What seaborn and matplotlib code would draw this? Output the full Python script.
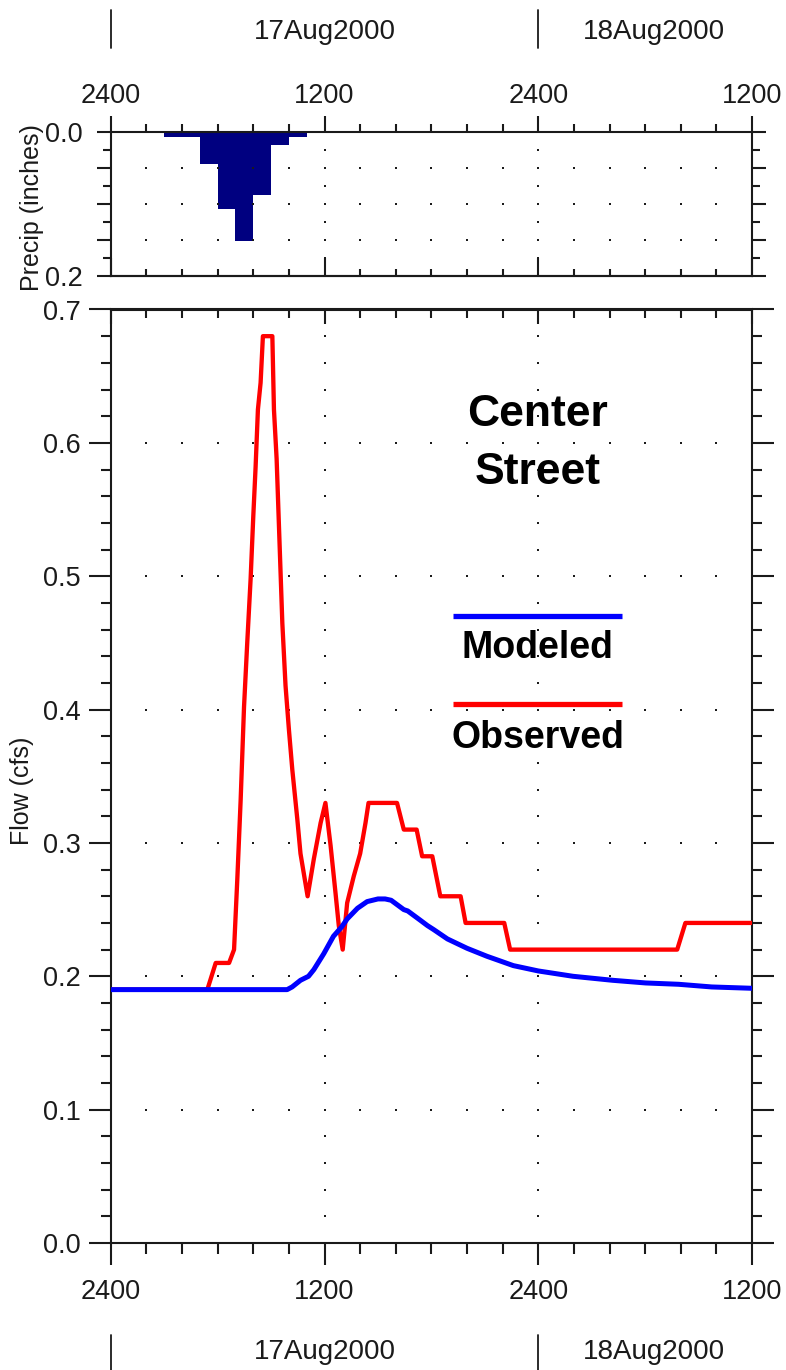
# -*- coding: utf-8 -*-
"""
CENTER STREET - PRECIP AND FLOW HYDROGRAPH
"""

import numpy as np
import matplotlib.pyplot as plt
import matplotlib.transforms as mtransforms
from matplotlib.ticker import MultipleLocator, FixedLocator, FuncFormatter, FormatStrFormatter
import seaborn as sns

# --- DATA (hours after 2400 on 16Aug2000)
precip_hour = [3, 4, 5, 6, 7, 8, 9, 10]
precip_in = [0.006, 0.006, 0.044, 0.107, 0.151, 0.087, 0.018, 0.006]

obs_hour = [0, 5.42, 5.89, 6.64, 6.92, 7.10, 7.29, 7.48, 7.66, 7.85, 8.0, 8.13, 8.26,
            8.41, 8.54, 9.07, 9.16, 9.31, 9.50, 9.63, 9.81, 10.0, 10.19, 10.47, 10.65,
            11.05, 11.4, 11.78, 12.05, 12.34, 12.62, 12.8, 13.02, 13.27, 13.64, 14.0,
            14.3, 14.47, 16.07, 16.45, 17.17, 17.48, 18.05, 18.5, 19.64, 19.92, 22.09,
            22.42, 31.8, 32.26, 36]
obs_flow = [0.19, 0.19, 0.21, 0.21, 0.22, 0.272, 0.332, 0.402, 0.45, 0.498, 0.545, 0.582,
            0.625, 0.645, 0.68, 0.68, 0.625, 0.588, 0.515, 0.465, 0.418, 0.385, 0.355,
            0.318, 0.292, 0.26, 0.288, 0.315, 0.33, 0.298, 0.262, 0.238, 0.22, 0.255,
            0.275, 0.292, 0.315, 0.33, 0.33, 0.31, 0.31, 0.29, 0.29, 0.26, 0.26, 0.24,
            0.24, 0.22, 0.22, 0.24, 0.24]

mod_hour = [0, 9.9, 10.18, 10.65, 11.1, 11.4, 11.96, 12.5, 12.96, 13.27, 13.85, 14.39,
            15.0, 15.4, 15.74, 16.45, 16.67, 17.38, 17.78, 18.13, 18.9, 20.0, 21.12,
            22.6, 24.0, 25.95, 28.17, 30.03, 31.88, 33.74, 36]
mod_flow = [0.19, 0.19, 0.192, 0.197, 0.2, 0.205, 0.217, 0.23, 0.237, 0.243, 0.251, 0.256,
            0.258, 0.258, 0.257, 0.25, 0.249, 0.242, 0.238, 0.235, 0.228, 0.221, 0.215,
            0.208, 0.204, 0.2, 0.197, 0.195, 0.194, 0.192, 0.191]

hour_ticks = [0, 12, 24, 36]
hour_labels = ['2400', '1200', '2400', '1200']
day_edges = [0, 24]
day_centres = [12, 30.5]
day_labels = ['17Aug2000', '18Aug2000']

INK = '#1a1a1a'
W, H = 786, 1370
L, R = 110.8, 752.0


def box(top, bottom):
    return [L / W, 1 - bottom / H, (R - L) / W, (bottom - top) / H]


def pt(px):
    return px * 0.72


#%% --- STYLE
sns.set_style("ticks")
plt.rcParams['font.family'] = ['Liberation Sans', 'DejaVu Sans']
plt.rcParams['axes.edgecolor'] = INK
plt.rcParams['axes.linewidth'] = 1.5
plt.rcParams['xtick.color'] = INK
plt.rcParams['ytick.color'] = INK
plt.rcParams['xtick.major.width'] = 1.5
plt.rcParams['xtick.minor.width'] = 1.5
plt.rcParams['ytick.major.width'] = 1.5
plt.rcParams['ytick.minor.width'] = 1.5

fig = plt.figure(figsize=(W / 100, H / 100), dpi=100)
ax_p = fig.add_axes(box(132.3, 276.3))
ax_q = fig.add_axes(box(309.5, 1243.0))


def dots(ax, xs_row, ys_row, xs_col, ys_col):
    gx, gy = np.meshgrid(xs_row, ys_row)
    cx, cy = np.meshgrid(xs_col, ys_col)
    ax.scatter(np.r_[gx.ravel(), cx.ravel()], np.r_[gy.ravel(), cy.ravel()],
               s=1.8, marker='s', color=INK, linewidths=0, zorder=2)


#%% --- PRECIP PANEL
sns.histplot(x=precip_hour, weights=precip_in, binwidth=1, binrange=(3, 11),
             color='#000080', alpha=1, linewidth=0, ax=ax_p, zorder=1)
dots(ax_p, np.arange(2, 36, 2), [0.05, 0.1, 0.15], [12, 24], np.arange(0.025, 0.2, 0.025))
ax_p.set_xlim(0, 36)
ax_p.set_ylim(0.2, 0)
ax_p.set_xlabel('')
ax_p.set_ylabel('Precip (inches)', fontsize=18, color=INK)
ax_p.yaxis.label.set_va('center')
ax_p.yaxis.set_label_coords((32 - L) / (R - L), (276.3 - 208) / 144)

ax_p.xaxis.set_major_locator(FixedLocator(hour_ticks))
ax_p.xaxis.set_minor_locator(MultipleLocator(2))
ax_p.set_xticklabels(hour_labels)
ax_p.xaxis.tick_top()
ax_p.tick_params(axis='x', which='both', direction='out', top=True, bottom=False,
                 labeltop=True, labelbottom=False, labelsize=19.5, pad=pt(7))
ax_p.tick_params(axis='x', which='major', length=pt(16))
ax_p.tick_params(axis='x', which='minor', length=pt(8))
ax_p.yaxis.set_major_locator(MultipleLocator(0.05))
ax_p.yaxis.set_minor_locator(MultipleLocator(0.025))
ax_p.yaxis.set_major_formatter(FuncFormatter(
    lambda v, p: f'{v:.1f}' if min(abs(v), abs(v - 0.2)) < 1e-9 else ''))
ax_p.tick_params(axis='y', which='both', direction='out', left=True, right=True,
                 labelsize=19.5, pad=pt(14))
ax_p.tick_params(axis='y', which='major', length=pt(14))
ax_p.tick_params(axis='y', which='minor', length=pt(8))

sec_p = ax_p.secondary_xaxis('bottom')
sec_p.xaxis.set_major_locator(FixedLocator(hour_ticks))
sec_p.xaxis.set_minor_locator(MultipleLocator(2))
sec_p.tick_params(axis='x', which='both', direction='in', labelbottom=False)
sec_p.tick_params(axis='x', which='major', length=pt(18))
sec_p.tick_params(axis='x', which='minor', length=pt(7))

#%% --- FLOW PANEL
dots(ax_q, np.arange(2, 36, 2), np.arange(0.1, 0.65, 0.1), [12, 24], np.arange(0.02, 0.7, 0.02))
sns.lineplot(x=obs_hour, y=obs_flow, color='#ff0000', lw=3.1, ax=ax_q,
             estimator=None, sort=False, zorder=3)
sns.lineplot(x=mod_hour, y=mod_flow, color='#0000ff', lw=3.6, ax=ax_q,
             estimator=None, sort=False, zorder=4)
ax_q.set_xlim(0, 36)
ax_q.set_ylim(0, 0.7)
ax_q.set_xlabel('')
ax_q.set_ylabel('Flow (cfs)', fontsize=18, color=INK)
ax_q.yaxis.label.set_va('center')
ax_q.yaxis.set_label_coords((22 - L) / (R - L), (1243 - 791) / 933.5)

ax_q.xaxis.set_major_locator(FixedLocator(hour_ticks))
ax_q.xaxis.set_minor_locator(MultipleLocator(2))
ax_q.set_xticklabels(hour_labels)
ax_q.tick_params(axis='x', which='both', direction='out', labelsize=19.5, pad=pt(14))
ax_q.tick_params(axis='x', which='major', length=pt(22))
ax_q.tick_params(axis='x', which='minor', length=pt(11))
ax_q.yaxis.set_major_locator(MultipleLocator(0.1))
ax_q.yaxis.set_minor_locator(MultipleLocator(0.02))
ax_q.yaxis.set_major_formatter(FormatStrFormatter('%.1f'))
ax_q.tick_params(axis='y', which='both', direction='out', left=True, right=True,
                 labelsize=19.5, pad=pt(8))
ax_q.tick_params(axis='y', which='major', length=pt(22))
ax_q.tick_params(axis='y', which='minor', length=pt(10))

sec_q = ax_q.secondary_xaxis('top')
sec_q.xaxis.set_major_locator(FixedLocator(hour_ticks))
sec_q.xaxis.set_minor_locator(MultipleLocator(2))
sec_q.tick_params(axis='x', which='both', direction='in', labeltop=False)
sec_q.tick_params(axis='x', which='major', length=pt(15))
sec_q.tick_params(axis='x', which='minor', length=pt(9))

# title and legend inside plot
ax_q.text(0.6655, 0.8565, 'Center\nStreet', transform=ax_q.transAxes, ha='center',
          va='center', fontsize=32, fontweight='bold', linespacing=1.55, color='black')
for y_line, y_txt, col, name in [(0.6717, 0.637, '#0000ff', 'Modeled'),
                                 (0.5774, 0.541, '#ff0000', 'Observed')]:
    ax_q.plot([0.5337, 0.7972], [y_line, y_line], transform=ax_q.transAxes,
              color=col, lw=3.8, solid_capstyle='butt')
    ax_q.text(0.6655, y_txt, name, transform=ax_q.transAxes, ha='center', va='center',
              fontsize=27, fontweight='bold', color='black')

#%% --- DAY LABELS TOP AND BOTTOM
for ax, (y0, y1, yt) in [(ax_p, (10, 48, 32)), (ax_q, (1335, 1370, 1352))]:
    trans = mtransforms.blended_transform_factory(ax.transData, fig.transFigure)
    for xe in day_edges:
        ax.plot([xe, xe], [1 - y0 / H, 1 - y1 / H], transform=trans, color=INK,
                lw=1.3, clip_on=False)
    for xc, lab in zip(day_centres, day_labels):
        ax.text(xc, 1 - yt / H, lab, transform=trans, ha='center', va='center',
                fontsize=20, color=INK)

plt.savefig("out.png", dpi=100, facecolor='white')
